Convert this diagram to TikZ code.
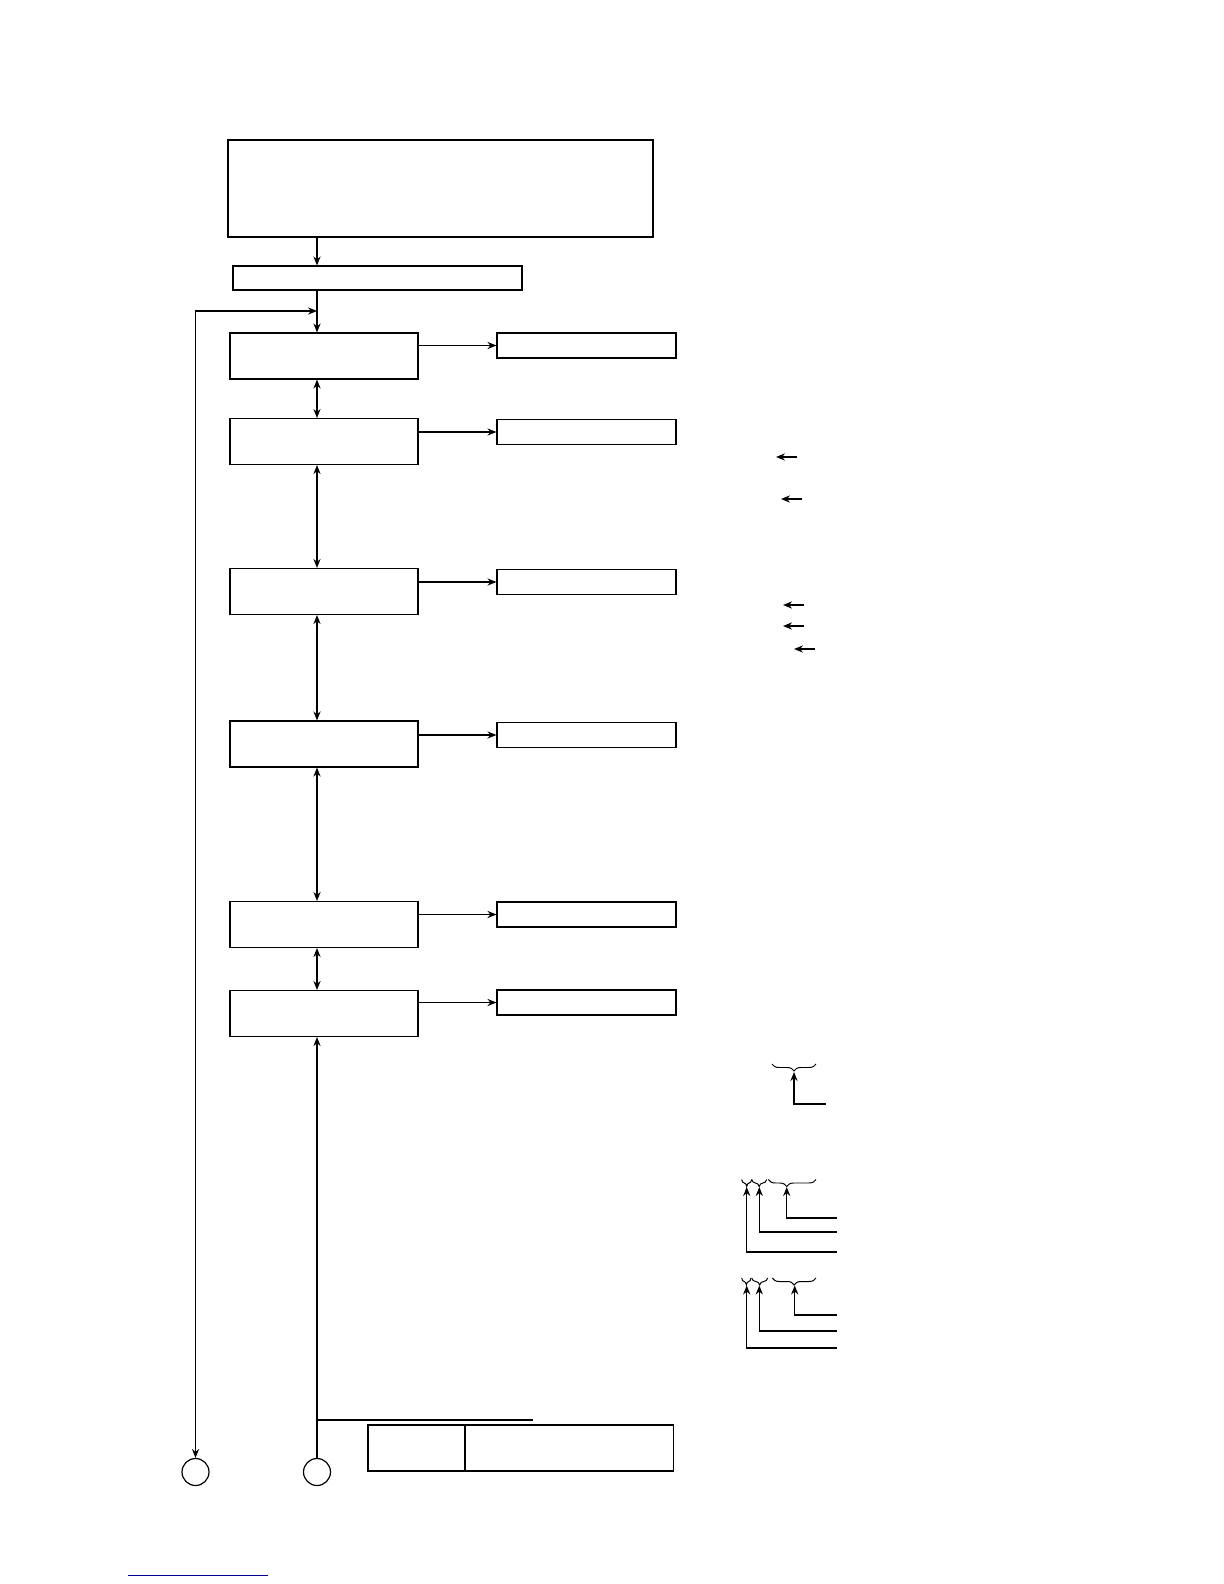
\documentclass[tikz,border=0pt]{standalone}
\usetikzlibrary{positioning}
\usetikzlibrary{arrows.meta}
\usetikzlibrary{decorations.pathreplacing}

\begin{document}
\begin{tikzpicture}[x=0.017639cm, y=-0.017639cm, >={Stealth[length=4.5pt,width=3.6pt]}, line width=0.6pt]
        \useasboundingbox (0,0) rectangle (1224,1584);
        \tikzset{
            stage/.style={draw, minimum width=3.316cm, minimum height=0.811cm, inner sep=0pt},
            result/.style={draw, minimum width=3.157cm, minimum height=0.441cm, inner sep=0pt},
            offpage/.style={draw, circle, minimum size=0.476cm, inner sep=0pt},
            bracket/.style={decorate, decoration={brace, amplitude=3.5pt}, line width=0.5pt}
        }
        \coordinate (spine) at (317,0);

        % Top: setup box and init bar
        \node[draw, minimum width=7.497cm, minimum height=1.711cm] (setup) at (440.5,188.5) {};
        \node[draw, minimum width=5.098cm, minimum height=0.423cm] (init) at (377.5,278) {};
        \draw[->] (setup.south -| spine) -- (init.north -| spine);

        % Stages on the left, results on the right
        \node[stage] (stage_1) at (324,356) {};
        \node[stage] (stage_2) at (324,441.5) {};
        \node[stage] (stage_3) at (324,591.5) {};
        \node[stage] (stage_4) at (324,744) {};
        \node[stage] (stage_5) at (324,924.5) {};
        \node[stage] (stage_6) at (324,1013.5) {};
        \node[result] (out_1) at (586.5,345.5) {};
        \node[result] (out_2) at (586.5,432) {};
        \node[result] (out_3) at (586.5,582) {};
        \node[result] (out_4) at (586.5,735) {};
        \node[result] (out_5) at (586.5,914.5) {};
        \node[result] (out_6) at (586.5,1002.5) {};

        \draw[->] (init.south -| spine) -- (stage_1.north -| spine);
        \foreach \a/\b in {1/2, 2/3, 3/4, 4/5, 5/6}
            \draw[<->] (stage_\a.south -| spine) -- (stage_\b.north -| spine);
        \foreach \i in {1,...,6}
            \draw[->] (out_\i.west -| stage_\i.east) -- (out_\i.west);

        % Loop back and off-page connectors
        \node[offpage] (back) at (195.5,1472) {};
        \node[offpage] (entry) at (317,1472) {};
        \coordinate (loop) at (317,311);
        \draw[<->] (loop) -| (back.north);
        \draw[->] (entry.north) -- (stage_6.south -| spine);
        \coordinate (tap) at (317,1420);
        \coordinate (tap_end) at (533,1420);
        \draw (tap) -- (tap_end);

        % Bottom key table
        \node[draw, minimum width=1.702cm, minimum height=0.811cm, inner sep=0pt] (key_left) at (416.25,1448) {};
        \node[draw, minimum width=3.660cm, minimum height=0.811cm, inner sep=0pt, anchor=west] (key_right) at (key_left.east) {};

        % Short pointers on the right
        \foreach \x/\y [count=\n] in {776/457, 781/499, 783/605, 783/626, 794/649} {
            \coordinate (tip_\n) at (\x,\y);
            \coordinate (tail_\n) at (\x+21,\y);
            \draw[->] (tail_\n) -- (tip_\n);
        }

        % Field braces
        \draw[bracket] (816,1064) -- (772,1064) coordinate[midway] (brace_top);
        \coordinate (field_top) at (794,1072);
        \coordinate (field_top_end) at (826,1104);
        \draw[->] (field_top_end) -| (field_top);

        \draw[bracket] (751.7,1179.5) -- (741.7,1179.5);
        \draw[bracket] (766.7,1179.5) -- (751.7,1179.5);
        \draw[bracket, decoration={aspect=0.614}] (816,1179.5) -- (768.3,1179.5);
        \foreach \x/\y [count=\n] in {746.7/1252, 759.3/1232, 786.7/1218} {
            \coordinate (mid_tip_\n) at (\x,1187);
            \coordinate (mid_end_\n) at (837,\y);
            \draw[->] (mid_end_\n) -| (mid_tip_\n);
        }

        \draw[bracket] (751,1278) -- (741.7,1278);
        \draw[bracket] (767.7,1278) -- (751.7,1278);
        \draw[bracket] (816,1278) -- (772.3,1278);
        \foreach \x/\y [count=\n] in {746.7/1348, 759.3/1331, 794.7/1315} {
            \coordinate (low_tip_\n) at (\x,1285.5);
            \coordinate (low_end_\n) at (837,\y);
            \draw[->] (low_end_\n) -| (low_tip_\n);
        }

        % Link underline
        \coordinate (link_a) at (128,1575);
        \coordinate (link_b) at (268,1575);
        \draw[blue!60!black, line width=0.5pt] (link_a) -- (link_b);
    \end{tikzpicture}
\end{document}
